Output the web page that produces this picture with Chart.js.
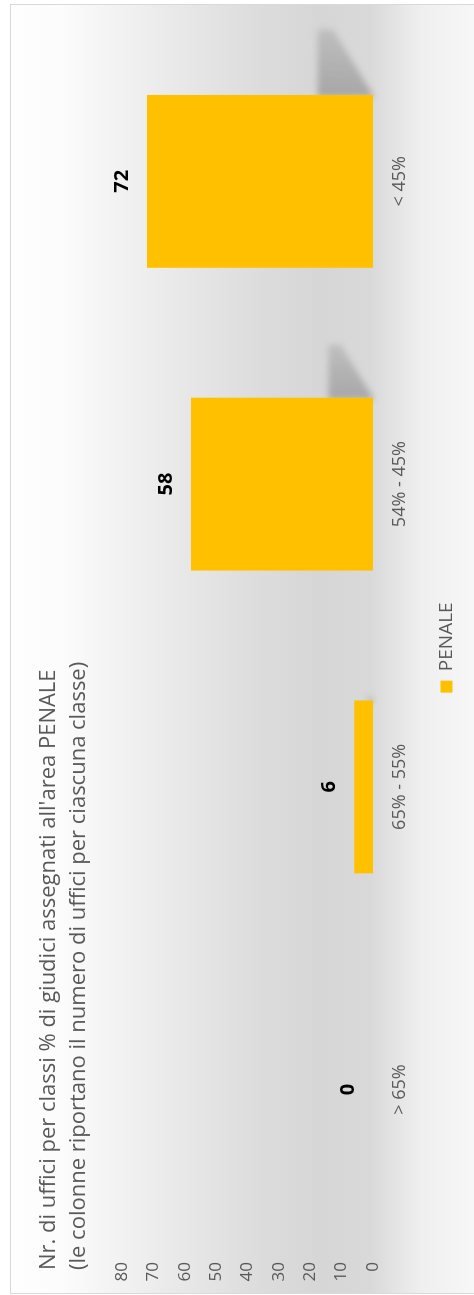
<!DOCTYPE html>
<html>
<head>
<meta charset="utf-8">
<title>Uffici per classi % - PENALE</title>
<script src="https://cdn.jsdelivr.net/npm/chart.js@4.4.1/dist/chart.umd.min.js"></script>
<style>
    html, body { margin: 0; padding: 0; background: #fff; overflow: hidden; }
    /* the chart is laid out landscape and turned to portrait */
    #stage {
        position: absolute; left: 0; top: 0;
        width: 1295px; height: 474px;
        transform-origin: 0 0;
        transform: translateY(1295px) rotate(-90deg);
        font-family: 'Open Sans', 'DejaVu Sans', sans-serif;
    }
    #frame {
        position: absolute; left: 1px; top: 10px;
        width: 1288px; height: 470px;
        border: 1px solid #d9d9d9;
        background: linear-gradient(to bottom,
            #fefefe 0px, #fcfcfc 50px, #f5f5f5 90px, #e8e8e8 170px,
            #dcdcdc 250px, #d6d6d6 310px, #d9d9d9 360px, #e2e2e2 380px,
            #efefef 410px, #f7f7f7 464px);
    }
    #title {
        position: absolute; left: 25px; top: 31px;
        font-size: 22px; line-height: 30px;
        color: #595959; white-space: nowrap;
    }
    #chart { position: absolute; left: 0; top: 0; }
</style>
</head>
<body>
<div id="stage">
    <div id="frame"></div>
    <canvas id="chart" width="1295" height="474"></canvas>
    <div id="title"></div>
</div>
<script>
// Uffici per classe % di giudici assegnati all'area penale
const categories = ['> 65%', '65% - 55%', '54% - 45%', '< 45%'];
const uffici = [0, 6, 58, 72];
const seriesName = 'PENALE';
const titleLines = [
    "Nr. di uffici per classi % di giudici assegnati all'area PENALE",
    "(le colonne riportano il numero di uffici per ciascuna classe)"
];
const yMin = 0, yMax = 80, yStep = 10;

const FONT = "'Open Sans', 'DejaVu Sans', sans-serif";
const GREY = '#595959';

const titleEl = document.getElementById('title');
titleLines.forEach(line => {
    const d = document.createElement('div');
    d.textContent = line;
    titleEl.appendChild(d);
});

// soft floor shadow cast to the right of each column
const barShadow = {
    id: 'barShadow',
    beforeDatasetsDraw(chart) {
        const ctx = chart.ctx;
        chart.getDatasetMeta(0).data.forEach(bar => {
            const p = bar.getProps(['x', 'y', 'base', 'width'], true);
            const h = p.base - p.y;
            if (h < 4) return;
            const right = p.x + p.width / 2;
            const len = h * 0.29;
            const top = p.base - h * 0.245;
            const g = ctx.createLinearGradient(right, 0, right + len, 0);
            g.addColorStop(0, 'rgba(95,95,95,0.4)');
            g.addColorStop(1, 'rgba(95,95,95,0.2)');
            ctx.save();
            ctx.filter = 'blur(3px)';
            ctx.fillStyle = g;
            ctx.beginPath();
            ctx.moveTo(right - 2, top);
            ctx.lineTo(right + len, top);
            ctx.lineTo(right + len, p.base - h * 0.177);
            ctx.lineTo(right, p.base);
            ctx.lineTo(right - 2, p.base);
            ctx.closePath();
            ctx.fill();
            ctx.restore();
        });
    }
};

// bold value above each column
const valueLabels = {
    id: 'valueLabels',
    afterDatasetsDraw(chart) {
        const ctx = chart.ctx;
        const ds = chart.data.datasets[0];
        ctx.save();
        ctx.font = 'bold 20px ' + FONT;
        ctx.fillStyle = '#000';
        ctx.textAlign = 'center';
        ctx.textBaseline = 'middle';
        chart.getDatasetMeta(0).data.forEach((bar, i) => {
            ctx.fillText(String(ds.data[i]), bar.x, bar.y - 25);
        });
        ctx.restore();
    }
};

new Chart(document.getElementById('chart'), {
    type: 'bar',
    data: {
        labels: categories,
        datasets: [{
            label: seriesName,
            data: uffici,
            backgroundColor: '#FFC000',
            borderWidth: 0,
            barPercentage: 0.571,
            categoryPercentage: 1
        }]
    },
    options: {
        responsive: false,
        animation: false,
        events: [],
        layout: {
            padding: { top: 122, left: 5, right: 5, bottom: 8 }
        },
        plugins: {
            legend: {
                position: 'bottom',
                labels: {
                    color: GREY,
                    boxWidth: 12,
                    boxHeight: 12,
                    padding: 10,
                    font: { family: FONT, size: 19 }
                }
            },
            tooltip: { enabled: false }
        },
        scales: {
            x: {
                grid: { display: false, drawTicks: false },
                border: { display: false },
                ticks: {
                    color: GREY,
                    padding: 16,
                    font: { family: FONT, size: 18 }
                },
                afterFit(scale) { scale.height = 54; }
            },
            y: {
                min: yMin,
                max: yMax,
                grid: { display: false, drawTicks: false },
                border: { display: false },
                ticks: {
                    stepSize: yStep,
                    color: GREY,
                    padding: 21,
                    font: { family: FONT, size: 17 }
                },
                afterFit(scale) { scale.width = 49; }
            },
            // empty right-hand spacer keeping the plot clear of the frame
            gutter: {
                type: 'linear',
                position: 'right',
                grid: { display: false, drawTicks: false },
                border: { display: false },
                ticks: { display: false },
                afterFit(scale) { scale.width = 25; }
            }
        }
    },
    plugins: [barShadow, valueLabels]
});
</script>
</body>
</html>
